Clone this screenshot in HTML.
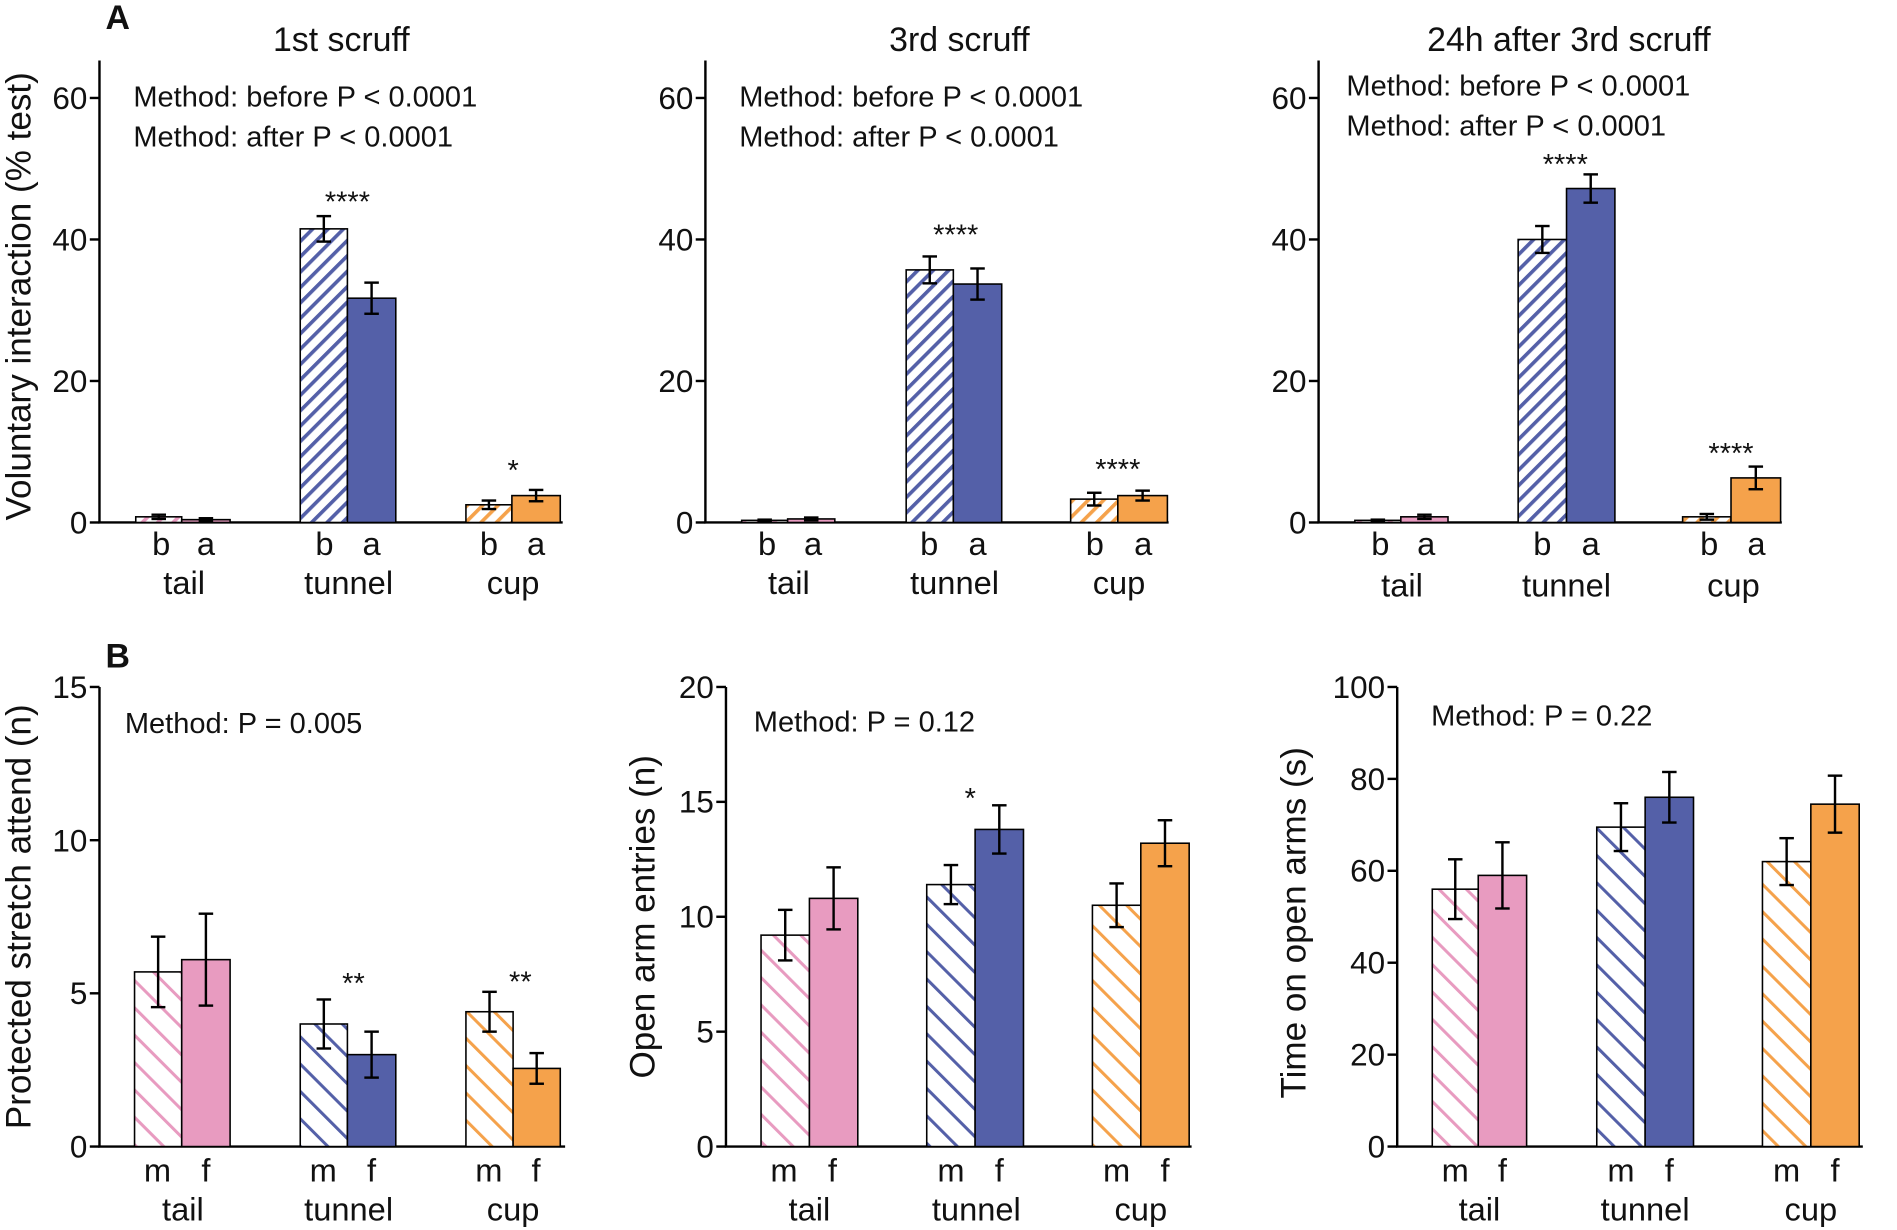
<!DOCTYPE html>
<html><head><meta charset="utf-8"><style>
html,body{margin:0;padding:0;background:#fff}
svg{display:block}
text{font-family:"Liberation Sans",Arial,sans-serif;fill:#111}
</style></head><body>
<svg id="s" width="1897" height="1230" viewBox="0 0 1568 1017" xmlns="http://www.w3.org/2000/svg">
<defs>
<pattern id="hApink" width="9" height="9" patternUnits="userSpaceOnUse" patternTransform="rotate(45)"><rect width="9" height="9" fill="#fff"/><rect x="0" width="3" height="9" fill="#e89bc0"/></pattern>
<pattern id="hAblue" width="9" height="9" patternUnits="userSpaceOnUse" patternTransform="rotate(45)"><rect width="9" height="9" fill="#fff"/><rect x="0" width="3" height="9" fill="#5460a8"/></pattern>
<pattern id="hAorange" width="9" height="9" patternUnits="userSpaceOnUse" patternTransform="rotate(45)"><rect width="9" height="9" fill="#fff"/><rect x="0" width="3" height="9" fill="#f5a24b"/></pattern>
<pattern id="hBpink" width="16" height="16" patternUnits="userSpaceOnUse" patternTransform="rotate(-45)"><rect width="16" height="16" fill="#fff"/><rect x="0" width="2.5" height="16" fill="#e89bc0"/></pattern>
<pattern id="hBblue" width="16" height="16" patternUnits="userSpaceOnUse" patternTransform="rotate(-45)"><rect width="16" height="16" fill="#fff"/><rect x="0" width="2.5" height="16" fill="#5460a8"/></pattern>
<pattern id="hBorange" width="16" height="16" patternUnits="userSpaceOnUse" patternTransform="rotate(-45)"><rect width="16" height="16" fill="#fff"/><rect x="0" width="2.5" height="16" fill="#f5a24b"/></pattern>
</defs>
<g id="g"></g>

<text x="87" y="24" font-size="28" font-weight="bold">A</text>
<text x="87" y="552" font-size="28" font-weight="bold">B</text>

<text x="282" y="42" font-size="28" text-anchor="middle">1st scruff</text>
<text x="793" y="42" font-size="28" text-anchor="middle">3rd scruff</text>
<text x="1297" y="42" font-size="28" text-anchor="middle">24h after 3rd scruff</text>

<g font-size="24">
<text x="110" y="88">Method: before P &lt; 0.0001</text>
<text x="110" y="121">Method: after P &lt; 0.0001</text>
<text x="611" y="88">Method: before P &lt; 0.0001</text>
<text x="611" y="121">Method: after P &lt; 0.0001</text>
<text x="1113" y="79">Method: before P &lt; 0.0001</text>
<text x="1113" y="112">Method: after P &lt; 0.0001</text>
<text x="103" y="606">Method: P = 0.005</text>
<text x="623" y="605">Method: P = 0.12</text>
<text x="1183" y="600">Method: P = 0.22</text>
</g>

<g font-size="29" text-anchor="middle">
<text transform="translate(25,245) rotate(-90)">Voluntary interaction (% test)</text>
<text transform="translate(25,758) rotate(-90)">Protected stretch attend (n)</text>
<text transform="translate(541,758) rotate(-90)">Open arm entries (n)</text>
<text transform="translate(1079,763) rotate(-90)">Time on open arms (s)</text>
</g>

<g font-size="26" text-anchor="end">
<text x="72" y="441">0</text><text x="72" y="324">20</text><text x="72" y="207">40</text><text x="72" y="90">60</text>
<text x="573" y="441">0</text><text x="573" y="324">20</text><text x="573" y="207">40</text><text x="573" y="90">60</text>
<text x="1080" y="441">0</text><text x="1080" y="324">20</text><text x="1080" y="207">40</text><text x="1080" y="90">60</text>
<text x="72" y="957">0</text><text x="72" y="830">5</text><text x="72" y="704">10</text><text x="72" y="577">15</text>
<text x="590" y="957">0</text><text x="590" y="862">5</text><text x="590" y="767">10</text><text x="590" y="672">15</text><text x="590" y="577">20</text>
<text x="1145" y="957">0</text><text x="1145" y="881">20</text><text x="1145" y="805">40</text><text x="1145" y="729">60</text><text x="1145" y="653">80</text><text x="1145" y="577">100</text>
</g>

<g font-size="27" text-anchor="middle">
<text x="133" y="459">b</text><text x="170" y="459">a</text><text x="268" y="459">b</text><text x="307" y="459">a</text><text x="404" y="459">b</text><text x="443" y="459">a</text>
<text x="152" y="491">tail</text><text x="288" y="491">tunnel</text><text x="424" y="491">cup</text>
<text x="634" y="459">b</text><text x="672" y="459">a</text><text x="768" y="459">b</text><text x="808" y="459">a</text><text x="905" y="459">b</text><text x="945" y="459">a</text>
<text x="652" y="491">tail</text><text x="789" y="491">tunnel</text><text x="925" y="491">cup</text>
<text x="1141" y="459">b</text><text x="1179" y="459">a</text><text x="1275" y="459">b</text><text x="1315" y="459">a</text><text x="1413" y="459">b</text><text x="1452" y="459">a</text>
<text x="1159" y="493">tail</text><text x="1295" y="493">tunnel</text><text x="1433" y="493">cup</text>
<text x="130" y="977">m</text><text x="170" y="977">f</text><text x="267" y="977">m</text><text x="307" y="977">f</text><text x="404" y="977">m</text><text x="443" y="977">f</text>
<text x="151" y="1009">tail</text><text x="288" y="1009">tunnel</text><text x="424" y="1009">cup</text>
<text x="648" y="977">m</text><text x="688" y="977">f</text><text x="786" y="977">m</text><text x="826" y="977">f</text><text x="923" y="977">m</text><text x="963" y="977">f</text>
<text x="669" y="1009">tail</text><text x="807" y="1009">tunnel</text><text x="943" y="1009">cup</text>
<text x="1203" y="977">m</text><text x="1242" y="977">f</text><text x="1340" y="977">m</text><text x="1380" y="977">f</text><text x="1477" y="977">m</text><text x="1517" y="977">f</text>
<text x="1223" y="1009">tail</text><text x="1360" y="1009">tunnel</text><text x="1497" y="1009">cup</text>
</g>

<g font-size="24" text-anchor="middle">
<text x="287" y="175">****</text><text x="424" y="397">*</text>
<text x="790" y="202">****</text><text x="924" y="396">****</text>
<text x="1294" y="144">****</text><text x="1431" y="383">****</text>
<text x="292" y="821">**</text><text x="430" y="820">**</text>
<text x="802" y="668">*</text>
</g>
</svg>
<script>
var g=document.getElementById('g'),NS='http://www.w3.org/2000/svg';
function el(t,a){var e=document.createElementNS(NS,t);for(var k in a)e.setAttribute(k,a[k]);g.appendChild(e);return e;}
function axes(x,y0,ytop,xend,ticks){
 el('line',{x1:x,y1:y0,x2:x,y2:ytop,stroke:'#000','stroke-width':2});
 el('line',{x1:x-1,y1:y0,x2:xend,y2:y0,stroke:'#000','stroke-width':2});
 ticks.forEach(function(t){el('line',{x1:x-8,y1:t,x2:x,y2:t,stroke:'#000','stroke-width':2});});
}
var C={pink:'#e89bc0',blue:'#5460a8',orange:'#f5a24b'};
function bar(x0,x1,y0,s,v,e,fill){
 var h=v*s;
 el('rect',{x:x0,y:y0-h,width:x1-x0,height:h,fill:fill,stroke:'#000','stroke-width':1.3});
 if(e>0){var xm=(x0+x1)/2,yt=y0-(v+e)*s,yb=y0-(v-e)*s;
 el('line',{x1:xm,y1:yt,x2:xm,y2:yb,stroke:'#000','stroke-width':2});
 el('line',{x1:xm-6,y1:yt,x2:xm+6,y2:yt,stroke:'#000','stroke-width':2});
 el('line',{x1:xm-6,y1:yb,x2:xm+6,y2:yb,stroke:'#000','stroke-width':2});}
}
var sA=351/60;
function panelA(ax,xs,vals){
 axes(ax,432,50,ax+383,[432,315,198,81]);
 var cols=['pink','blue','orange'];
 for(var i=0;i<3;i++){
  bar(xs[i][0],xs[i][1],432,sA,vals[i][0],vals[i][1],'url(#hA'+cols[i]+')');
  bar(xs[i][1],xs[i][2],432,sA,vals[i][2],vals[i][3],C[cols[i]]);
 }
}
panelA(82,[[112,150,190],[248,287,327],[385,423,463]],[[0.8,0.3,0.4,0.2],[41.5,1.8,31.7,2.2],[2.5,0.6,3.8,0.8]]);
panelA(583,[[613,651,690],[749,788,828],[885,924,965]],[[0.3,0.1,0.5,0.2],[35.7,1.9,33.7,2.2],[3.3,0.9,3.8,0.7]]);
panelA(1090,[[1120,1158,1197],[1255,1295,1335],[1391,1431,1472]],[[0.3,0.1,0.8,0.3],[40,1.9,47.2,2],[0.8,0.4,6.3,1.6]]);
function panelB(ax,xs,vals,max,ticks){
 axes(ax,948,568,ax+385,ticks);
 var s=380/max,cols=['pink','blue','orange'];
 for(var i=0;i<3;i++){
  bar(xs[i][0],xs[i][1],948,s,vals[i][0],vals[i][1],'url(#hB'+cols[i]+')');
  bar(xs[i][1],xs[i][2],948,s,vals[i][2],vals[i][3],C[cols[i]]);
 }
}
panelB(82,[[111,150,190],[248,287,327],[385,424,463]],[[5.7,1.15,6.1,1.5],[4.0,0.8,3.0,0.75],[4.4,0.65,2.55,0.5]],15,[948,821.3,694.7,568]);
panelB(600,[[629,669,709],[766,806,846],[903,943,983]],[[9.2,1.1,10.8,1.35],[11.4,0.85,13.8,1.05],[10.5,0.95,13.2,1.0]],20,[948,853,758,663,568]);
panelB(1155,[[1184,1222,1262],[1320,1360,1400],[1457,1497,1537]],[[56,6.5,59,7.2],[69.5,5.2,76,5.5],[62,5.1,74.5,6.2]],100,[948,872,796,720,644,568]);
</script>
</body></html>
